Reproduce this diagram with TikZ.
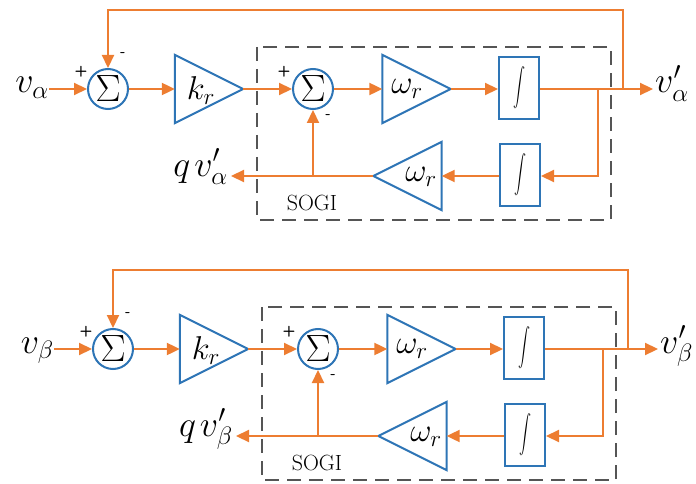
\RequirePackage{fix-cm}
\documentclass[tikz,border=0pt]{standalone}
\usetikzlibrary{arrows.meta}
\definecolor{org}{RGB}{237,125,49}
\definecolor{blu}{RGB}{46,117,182}
\definecolor{dgr}{RGB}{85,85,85}
\tikzset{
  sig/.style={draw=org, line width=2.2pt},
  arr/.style={sig, -{Triangle[length=13pt,width=12pt]}},
  sumnode/.style={circle, draw=blu, line width=2pt, minimum size=40pt, inner sep=0pt, font=\fontsize{20}{20}\selectfont},
  intbox/.style={rectangle, draw=blu, line width=2pt, minimum width=40pt, minimum height=62pt, inner sep=0pt},
  gainbox/.style={inner sep=0pt, minimum width=68pt, minimum height=68pt},
  tri/.style={draw=blu, line width=2pt, line join=miter},
  lbl/.style={inner sep=0pt, font=\fontsize{36}{36}\selectfont},
  glbl/.style={inner sep=0pt, font=\fontsize{33}{33}\selectfont},
  sgn/.style={inner sep=0pt, font=\sffamily\bfseries\fontsize{15}{15}\selectfont},
  sogibox/.style={draw=dgr, line width=1.8pt, dash pattern=on 14pt off 8pt},
  sogilbl/.style={inner sep=0pt, font=\fontsize{22}{22}\selectfont},
}
\newcommand\intsym{\scalebox{1.2}[1.9]{$\displaystyle\int$}}
\newcommand\sumsym{\scalebox{1.9}{$\Sigma$}}
\newcommand\sogiblock[3]{%
\begin{scope}[shift={#1}]
  \draw[sogibox] (257,47) rectangle (611,220);
  % blocks
  \node[sumnode] (#3s1) at (108,89) {\sumsym};
  \node[gainbox] (#3k) at (209,89) {};
  \draw[tri] (#3k.north west) -- (#3k.east) -- (#3k.south west) -- cycle;
  \node[glbl] (#3kt) at (201,91) {$k_r$};
  \node[sumnode] (#3s2) at (313,89) {\sumsym};
  \node[gainbox] (#3w1) at (416.5,89) {};
  \draw[tri] (#3w1.north west) -- (#3w1.east) -- (#3w1.south west) -- cycle;
  \node[glbl] (#3w1t) at (407,89) {$\omega_r$};
  \node[intbox] (#3i1) at (519,88) {\intsym};
  \node[intbox] (#3i2) at (520,175) {\intsym};
  \node[gainbox] (#3w2) at (407.5,176) {};
  \draw[tri] (#3w2.north east) -- (#3w2.west) -- (#3w2.south east) -- cycle;
  \node[glbl] (#3w2t) at (421,177) {$\omega_r$};
  % labels
  \node[lbl, anchor=base east] (#3in) at (49,93) {$v_{#2}$};
  \node[lbl, anchor=base west] (#3out) at (655,93) {$v^{\prime}_{#2}$};
  \node[lbl, anchor=base east] (#3q) at (228,176) {$q\mkern2mu v^{\prime}_{#2}$};
  \node[sogilbl] (#3sogi) at (312,203) {SOGI};
  \node[sgn] (#3p1) at (81,72) {+};
  \node[sgn] (#3m1) at (123,55) {-};
  \node[sgn] (#3p2) at (284,72) {+};
  \node[sgn] (#3m2) at (328,117) {-};
  % junctions
  \coordinate (#3j) at (623,89);
  \coordinate (#3b) at (598,89);
  \coordinate (#3c) at (313,176);
  % connectors
  \draw[arr] (#3in.east |- #3s1) -- (#3s1.west);
  \draw[arr] (#3s1.east) -- (#3k.west);
  \draw[arr] (#3k.east) -- (#3s2.west);
  \draw[arr] (#3s2.east) -- (#3w1.west);
  \draw[arr] (#3w1.east) -- (#3i1.west |- #3w1);
  \draw[arr] (#3i1.east |- #3w1) -- ([xshift=-2pt]#3out.west |- #3w1);
  \draw[arr] (#3j) -- ++(0,-79) -| (#3s1.north);
  \draw[arr] (#3b) |- (#3i2.east |- #3c);
  \draw[arr] (#3i2.west |- #3c) -- (#3w2.east);
  \draw[arr, shorten >=3pt] (#3w2.west) -- (#3q.east |- #3c);
  \draw[arr] (#3c) -- (#3s2.south);
\end{scope}}
\begin{document}
\begin{tikzpicture}[x=1pt,y=-1pt]
  \useasboundingbox (0,0) rectangle (696,484);
  \sogiblock{(0,0)}{\alpha}{a}
  \sogiblock{(5,260)}{\beta}{b}
\end{tikzpicture}
\end{document}
